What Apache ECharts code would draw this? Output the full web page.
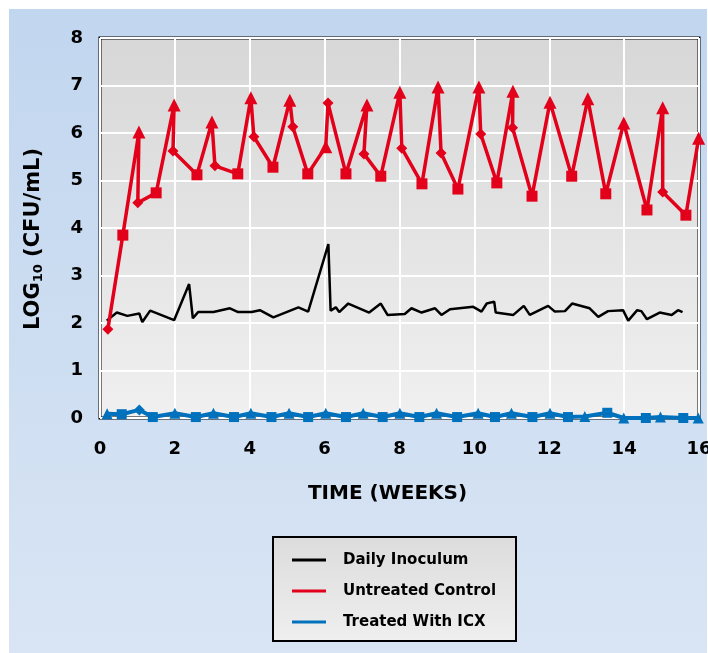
<!DOCTYPE html>
<html>
<head>
<meta charset="utf-8">
<script src="https://cdn.jsdelivr.net/npm/echarts@6/dist/echarts.min.js"></script>
<style>
html,body{margin:0;padding:0;background:#fff;}
#chart{width:708px;height:653px;}
</style>
</head>
<body>
<div id="chart"></div>
<script>
// ---- data ----
const xTicks = [0, 2, 4, 6, 8, 10, 12, 14, 16];
const yTicks = [0, 1, 2, 3, 4, 5, 6, 7, 8];
const seriesNames = ['Daily Inoculum', 'Untreated Control', 'Treated With ICX'];

const inocWeeks = [0.18,0.45,0.73,1.05,1.13,1.34,1.98,2.38,2.48,2.62,3.03,3.47,3.69,4.05,4.27,4.63,5.30,5.56,6.10,6.16,6.30,6.39,6.63,7.19,7.50,7.68,8.14,8.32,8.59,8.95,9.12,9.35,9.97,10.19,10.33,10.53,10.57,11.04,11.32,11.48,11.97,12.15,12.42,12.61,13.08,13.31,13.57,13.97,14.11,14.35,14.46,14.61,14.95,15.27,15.44,15.56];
const inocValues = [2.05,2.22,2.15,2.20,2.02,2.26,2.06,2.82,2.10,2.23,2.23,2.31,2.23,2.23,2.27,2.12,2.33,2.24,3.66,2.26,2.33,2.23,2.41,2.22,2.41,2.17,2.19,2.31,2.22,2.31,2.17,2.29,2.34,2.24,2.41,2.45,2.22,2.17,2.36,2.17,2.36,2.24,2.25,2.41,2.31,2.13,2.25,2.27,2.05,2.27,2.25,2.08,2.22,2.17,2.27,2.23];

const ctrlWeeks = [0.21,0.61,1.04,1.01,1.50,1.98,1.95,2.59,2.99,3.07,3.68,4.03,4.11,4.62,5.07,5.15,5.55,6.03,6.09,6.57,7.13,7.05,7.50,8.01,8.06,8.60,9.03,9.11,9.56,10.12,10.17,10.60,11.03,11.02,11.54,12.02,12.60,13.03,13.51,13.99,14.61,15.03,15.03,15.65,15.99];
const ctrlValues = [1.87,3.85,6.02,4.53,4.74,6.59,5.62,5.12,6.23,5.31,5.14,6.74,5.92,5.28,6.69,6.13,5.14,5.71,6.63,5.14,6.59,5.56,5.09,6.86,5.68,4.93,6.97,5.58,4.82,6.97,5.98,4.95,6.88,6.11,4.67,6.65,5.09,6.72,4.72,6.21,4.38,6.53,4.76,4.27,5.89];
const ctrlMarks = ['d','s','t','d','s','t','d','s','t','d','s','t','d','s','t','d','s','t','d','s','t','d','s','t','d','s','t','d','s','t','d','s','t','d','s','t','s','t','s','t','s','t','d','s','t'];

const icxWeeks = [0.19,0.58,1.05,1.41,2.00,2.56,3.03,3.58,4.03,4.58,5.05,5.56,6.03,6.57,7.03,7.55,8.01,8.53,8.99,9.54,10.10,10.55,10.99,11.55,12.02,12.50,12.95,13.55,13.99,14.58,14.97,15.58,15.98];
const icxValues = [0.09,0.08,0.17,0.02,0.10,0.02,0.10,0.02,0.10,0.02,0.10,0.02,0.10,0.02,0.10,0.02,0.10,0.02,0.10,0.02,0.10,0.02,0.10,0.02,0.10,0.02,0.03,0.11,0.00,0.00,0.02,0.00,0.00];
const icxMarks = ['t','s','d','s','t','s','t','s','t','s','t','s','t','s','t','s','t','s','t','s','t','s','t','s','t','s','t','s','t','s','t','s','t'];

// ---- build ----
const FONT = 'DejaVu Sans';
const RED = '#e2001a', BLUE = '#0071bc', BLACK = '#000000';
const symMap = {t: 'triangle', s: 'rect', d: 'diamond'};
const sizeMapRed = {t: 13, s: 11, d: 11};
const sizeMapBlue = {t: 11, s: 10, d: 11};

function pairs(xs, ys) { return xs.map((x, i) => [x, ys[i]]); }
function marked(xs, ys, marks, sizes) {
  return xs.map((x, i) => ({value: [x, ys[i]], symbol: symMap[marks[i]], symbolSize: sizes[marks[i]]}));
}

const chart = echarts.init(document.getElementById('chart'), null, {renderer: 'canvas'});
chart.setOption({
  animation: false,
  backgroundColor: '#ffffff',
  graphic: [
    {type: 'rect', z: -10, silent: true, shape: {x: 9, y: 9, width: 698, height: 644},
     style: {fill: new echarts.graphic.LinearGradient(0, 0, 0, 1, [{offset: 0, color: '#c1d6ef'}, {offset: 1, color: '#d9e5f4'}])}},
    {type: 'rect', z: 1, silent: true, shape: {x: 273, y: 537, width: 243, height: 104},
     style: {fill: new echarts.graphic.LinearGradient(0, 0, 0, 1, [{offset: 0, color: '#dcdcdc'}, {offset: 1, color: '#efefef'}]), stroke: '#000', lineWidth: 2}}
  ],
  grid: {left: 100, right: 9, top: 38, bottom: 235, show: true, containLabel: false, outerBoundsMode: 'none',
    backgroundColor: new echarts.graphic.LinearGradient(0, 0, 0, 1, [{offset: 0, color: '#d7d7d7'}, {offset: 1, color: '#f0f0f0'}]),
    borderColor: '#000', borderWidth: 3},
  legend: {
    z: 5, orient: 'vertical', left: 287, top: 547, itemGap: 15, itemWidth: 34, itemHeight: 3,
    icon: 'rect', data: seriesNames,
    textStyle: {fontFamily: FONT, fontWeight: 'bold', fontSize: 15, color: '#000', lineHeight: 16, padding: [0, 0, 0, 12]}
  },
  xAxis: {
    type: 'value', min: xTicks[0], max: xTicks[xTicks.length - 1], interval: 2,
    name: 'TIME (WEEKS)', nameLocation: 'middle', nameGap: 66,
    nameTextStyle: {fontFamily: FONT, fontWeight: 'bold', fontSize: 20, color: '#000', padding: [0, 24, 0, 0]},
    axisLine: {show: false}, axisTick: {show: false},
    axisLabel: {fontFamily: FONT, fontWeight: 'bold', fontSize: 18, color: '#000', margin: 22},
    splitLine: {show: true, lineStyle: {color: '#ffffff', width: 2}}
  },
  yAxis: {
    type: 'value', min: yTicks[0], max: yTicks[yTicks.length - 1], interval: 1,
    name: '{a|LOG}{b|10}{a| (CFU/mL)}', nameLocation: 'middle', nameGap: 55, nameRotate: 90,
    nameTextStyle: {color: '#000', padding: [0, 22, 0, 0],
      rich: {a: {fontFamily: FONT, fontWeight: 'bold', fontSize: 21, color: '#000', lineHeight: 23},
             b: {fontFamily: FONT, fontWeight: 'bold', fontSize: 13, color: '#000', lineHeight: 23, verticalAlign: 'bottom'}}},
    axisLine: {show: false}, axisTick: {show: false},
    axisLabel: {fontFamily: FONT, fontWeight: 'bold', fontSize: 18, color: '#000', margin: 17},
    splitLine: {show: true, lineStyle: {color: '#ffffff', width: 2}}
  },
  series: [
    {name: seriesNames[0], type: 'line', data: pairs(inocWeeks, inocValues), showSymbol: false, symbol: 'none',
     lineStyle: {color: BLACK, width: 2.5}, itemStyle: {color: BLACK}, z: 2},
    {name: seriesNames[1], type: 'line', data: marked(ctrlWeeks, ctrlValues, ctrlMarks, sizeMapRed), showSymbol: true,
     lineStyle: {color: RED, width: 3.5}, itemStyle: {color: RED}, z: 3},
    {name: seriesNames[2], type: 'line', data: marked(icxWeeks, icxValues, icxMarks, sizeMapBlue), showSymbol: true,
     lineStyle: {color: BLUE, width: 4}, itemStyle: {color: BLUE}, z: 4}
  ]
});
</script>
</body>
</html>
